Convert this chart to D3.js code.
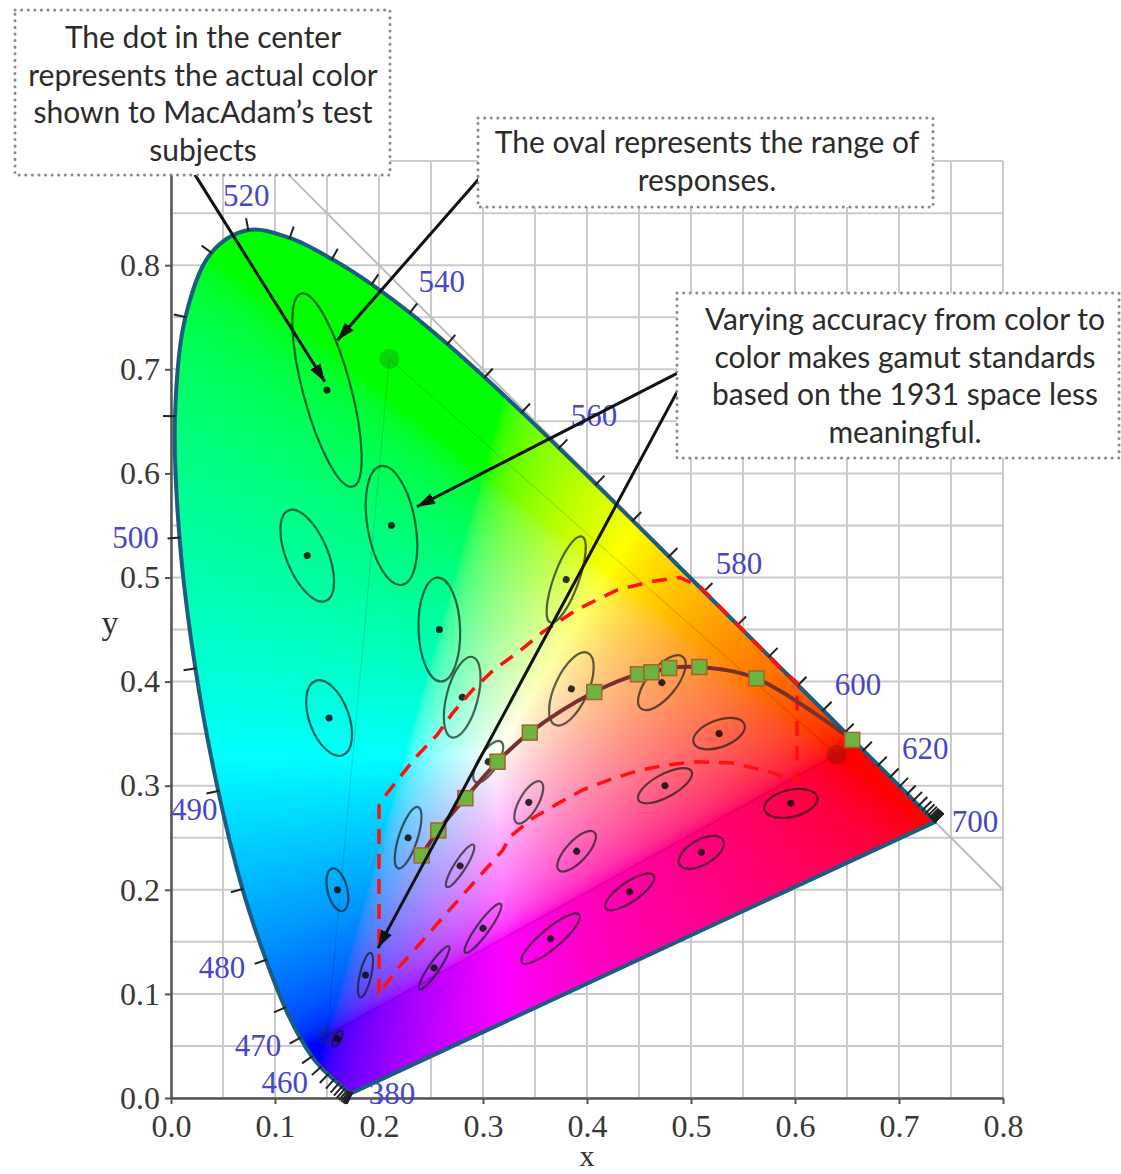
<!DOCTYPE html>
<html>
<head>
<meta charset="utf-8">
<script src="https://cdn.jsdelivr.net/npm/d3@7"></script>
<style>
  body { margin: 0; background: #fff; }
  svg { display: block; }
</style>
</head>
<body>
<svg id="chart" width="1121" height="1174"></svg>
<script>
// CIE 1931 spectral locus, 5 nm steps
const wavelengths = [380,385,390,395,400,405,410,415,420,425,430,435,440,445,450,455,460,465,470,475,
  480,485,490,495,500,505,510,515,520,525,530,535,540,545,550,555,560,565,570,575,580,585,590,595,
  600,605,610,615,620,625,630,635,640,645,650,655,660,665,670,675,680,685,690,695,700];
const locusX = [0.17411,0.17401,0.17380,0.17356,0.17334,0.17302,0.17258,0.17209,0.17141,0.17030,0.16888,
  0.16690,0.16441,0.16110,0.15664,0.15099,0.14396,0.13550,0.12412,0.10959,0.09129,0.06871,0.04539,0.02346,
  0.00817,0.00386,0.01387,0.03885,0.07430,0.11416,0.15472,0.19288,0.22962,0.26578,0.30160,0.33736,0.37310,
  0.40874,0.44406,0.47877,0.51249,0.54479,0.57515,0.60293,0.62704,0.64823,0.66576,0.68008,0.69150,0.70061,
  0.70792,0.71403,0.71903,0.72303,0.72599,0.72827,0.72997,0.73109,0.73199,0.73272,0.73342,0.73405,0.73439,
  0.73459,0.73469];
const locusY = [0.00496,0.00498,0.00492,0.00492,0.00480,0.00478,0.00480,0.00483,0.00510,0.00579,0.00690,
  0.00856,0.01086,0.01379,0.01771,0.02274,0.02970,0.03988,0.05780,0.08684,0.13270,0.20072,0.29498,0.41270,
  0.53842,0.65482,0.75019,0.81202,0.83380,0.82621,0.80586,0.78163,0.75433,0.72432,0.69231,0.65885,0.62445,
  0.58961,0.55471,0.52020,0.48659,0.45443,0.42423,0.39650,0.37249,0.35139,0.33401,0.31975,0.30834,0.29930,
  0.29203,0.28593,0.28093,0.27695,0.27401,0.27173,0.27003,0.26891,0.26801,0.26728,0.26658,0.26595,0.26561,
  0.26541,0.26531];
const labelWavelengths = [380,460,470,480,490,500,520,540,560,580,600,620,700];

// MacAdam ellipses (a, b in 1e-3, drawn magnified 10x)
const ellipseX = [0.160,0.187,0.253,0.150,0.131,0.212,0.258,0.152,0.280,0.380,0.160,0.228,0.305,
  0.385,0.472,0.527,0.475,0.510,0.596,0.344,0.390,0.441,0.278,0.300,0.365];
const ellipseY = [0.057,0.118,0.125,0.680,0.521,0.550,0.450,0.365,0.385,0.498,0.200,0.250,0.323,
  0.393,0.399,0.350,0.300,0.236,0.283,0.284,0.237,0.198,0.223,0.163,0.153];
const ellipseA = [0.85,2.2,2.5,9.6,4.7,5.8,5.0,3.8,4.0,4.4,2.1,3.1,2.3,3.8,3.2,2.6,2.9,2.4,2.6,
  2.3,2.5,2.8,2.4,2.9,3.6];
const ellipseB = [0.35,0.55,0.5,2.3,2.0,2.3,2.0,1.9,1.5,1.2,0.95,0.9,0.9,1.6,1.4,1.3,1.1,1.2,1.3,
  0.9,1.0,0.95,0.55,0.6,0.95];
const ellipseTheta = [62.5,77,55.5,105,112.5,100,92,110,75.5,70,104,72,58,65.5,51,20,28.5,29.5,13,
  60,47,34.5,57.5,54,40];

// faint RGB gamut triangle
const primaryX = [0.64, 0.21, 0.15];
const primaryY = [0.33, 0.71, 0.06];

// curve with green squares
const curveX = [0.241,0.257,0.283,0.314,0.345,0.407,0.449,0.462,0.479,0.508,0.563,0.655];
const curveY = [0.233,0.257,0.288,0.323,0.351,0.390,0.407,0.409,0.413,0.414,0.403,0.344];

// red dashed region
const bandX = [0.200,0.200,0.208,0.235,0.256,0.271,0.290,0.310,0.336,0.358,0.390,0.429,0.461,0.489,
  0.509,0.588,0.602,0.602,0.569,0.538,0.506,0.477,0.451,0.425,0.396,0.374,0.348,0.326,0.319,0.268,0.217];
const bandY = [0.100,0.281,0.293,0.327,0.349,0.370,0.392,0.411,0.430,0.448,0.469,0.488,0.496,0.500,
  0.491,0.411,0.399,0.305,0.315,0.322,0.323,0.320,0.315,0.307,0.296,0.284,0.269,0.251,0.238,0.181,0.123];

const xTicks = [0.0,0.1,0.2,0.3,0.4,0.5,0.6,0.7,0.8];
const yTicks = [0.0,0.1,0.2,0.3,0.4,0.5,0.6,0.7,0.8];

const noteLines = [
  ["The dot in the center", "represents the actual color", "shown to MacAdam\u2019s test", "subjects"],
  ["The oval represents the range of", "responses."],
  ["Varying accuracy from color to", "color makes gamut standards", "based on the 1931 space less", "meaningful."]
];
// arrows: tail and tip in chart units
const arrowFromX = [0.023, 0.297, 0.4875, 0.4875];
const arrowFromY = [0.887, 0.884, 0.6965, 0.680];
const arrowToX = [0.148, 0.160, 0.2365, 0.199];
const arrowToY = [0.688, 0.728, 0.568, 0.144];

// ---- layout ----
const noteBoxes = [
  {x: 15, y: 10, w: 375, h: 165, cx: 203, top: 48},
  {x: 478, y: 118, w: 455, h: 89, cx: 707, top: 153},
  {x: 677, y: 293, w: 442, h: 165, cx: 905, top: 330}
];
const lineGap = 37.5;
const labelOffset = {380:[40,1],460:[-36,15],470:[-42,8],480:[-44,8],490:[-24,19],500:[-44,0],
  520:[-2,-35],540:[32,-31],560:[35,-32],580:[35,-28],600:[35,-26],620:[35,-29],700:[40,0]};

const svg = d3.select("#chart");
const x = d3.scaleLinear().domain([0, 0.8]).range([171, 1003]);
const y = d3.scaleLinear().domain([0, 0.9]).range([1098, 1098 - 936.9]);
const serif = "'Liberation Serif','Times New Roman',serif";

// grid
const gridVals = d3.range(0, 17).map(i => i * 0.05);
const gridYVals = d3.range(0, 19).map(i => i * 0.05);
svg.append("g").selectAll("line").data(gridVals).join("line")
  .attr("x1", d => x(d)).attr("x2", d => x(d))
  .attr("y1", y(0)).attr("y2", y(0.9))
  .attr("stroke", "#cacaca").attr("stroke-width", 2);
svg.append("g").selectAll("line").data(gridYVals).join("line")
  .attr("y1", d => y(d)).attr("y2", d => y(d))
  .attr("x1", x(0)).attr("x2", x(0.8))
  .attr("stroke", "#cacaca").attr("stroke-width", 2);

// x + y = 1
svg.append("line")
  .attr("x1", x(0.1)).attr("y1", y(0.9)).attr("x2", x(0.8)).attr("y2", y(0.2))
  .attr("stroke", "#bdbdbd").attr("stroke-width", 2);

// axes
const xAxis = svg.append("g").attr("transform", `translate(0,${y(0)})`)
  .call(d3.axisBottom(x).tickValues(xTicks).tickFormat(d3.format(".1f")).tickSize(6).tickSizeOuter(0));
const yAxis = svg.append("g").attr("transform", `translate(${x(0)},0)`)
  .call(d3.axisLeft(y).tickValues(yTicks).tickFormat(d3.format(".1f")).tickSize(6).tickSizeOuter(0));
[xAxis, yAxis].forEach(g => {
  g.select(".domain").attr("stroke", "#555").attr("stroke-width", 2.5);
  g.selectAll(".tick line").attr("stroke", "#555").attr("stroke-width", 2);
  g.selectAll(".tick text").attr("font-family", serif).attr("font-size", 32).attr("fill", "#383838");
});
xAxis.selectAll(".tick text").attr("dy", null).attr("y", 39);
yAxis.selectAll(".tick text").attr("dy", "0.32em").attr("x", -11);

svg.append("text").attr("x", x(0.4)).attr("y", 1166)
  .attr("text-anchor", "middle").attr("font-family", serif).attr("font-size", 30).attr("fill", "#333").text("x");
svg.append("text").attr("x", 110).attr("y", 634)
  .attr("text-anchor", "middle").attr("font-family", serif).attr("font-size", 34).attr("fill", "#333").text("y");

// chromaticity fill
const locus = wavelengths.map((w, i) => [locusX[i], locusY[i]]);
const straight = d3.line().x(d => x(d[0])).y(d => y(d[1]));
const smooth = d3.line().x(d => x(d[0])).y(d => y(d[1])).curve(d3.curveCatmullRom.alpha(0.5));
const locusPath = smooth(locus) + "Z";
svg.append("defs").append("clipPath").attr("id", "locusClip")
  .append("path").attr("d", locusPath);

const px0 = Math.floor(x(0)), px1 = Math.ceil(x(0.8));
const py0 = Math.floor(y(0.9)), py1 = Math.ceil(y(0));
const cw = px1 - px0, ch = py1 - py0;
const canvas = document.createElement("canvas");
canvas.width = cw; canvas.height = ch;
const ctx = canvas.getContext("2d");
const img = ctx.createImageData(cw, ch);
const gam = c => c <= 0.0031308 ? 12.92 * c : 1.055 * Math.pow(c, 1 / 2.4) - 0.055;
for (let j = 0; j < ch; j++) {
  const cy = Math.max(y.invert(py0 + j + 0.5), 0.002);
  for (let i = 0; i < cw; i++) {
    const cx = x.invert(px0 + i + 0.5);
    const X = cx / cy, Y = 1, Z = (1 - cx - cy) / cy;
    let r = 3.2406 * X - 1.5372 * Y - 0.4986 * Z;
    let g = -0.9689 * X + 1.8758 * Y + 0.0415 * Z;
    let b = 0.0557 * X - 0.2040 * Y + 1.0570 * Z;
    r = Math.max(r, 0); g = Math.max(g, 0); b = Math.max(b, 0);
    const m = Math.max(r, g, b, 1e-6);
    const k = (j * cw + i) * 4;
    img.data[k] = Math.round(255 * gam(r / m));
    img.data[k + 1] = Math.round(255 * gam(g / m));
    img.data[k + 2] = Math.round(255 * gam(b / m));
    img.data[k + 3] = 255;
  }
}
ctx.putImageData(img, 0, 0);
svg.append("image")
  .attr("href", canvas.toDataURL())
  .attr("x", px0).attr("y", py0).attr("width", cw).attr("height", ch)
  .attr("clip-path", "url(#locusClip)");

// faint gamut triangle
const prim = primaryX.map((v, i) => [v, primaryY[i]]);
svg.append("path").attr("d", straight(prim) + "Z")
  .attr("fill", "none").attr("stroke", "rgba(0,0,0,0.13)").attr("stroke-width", 1.2);
svg.append("g").selectAll("circle").data(prim).join("circle")
  .attr("cx", d => x(d[0])).attr("cy", d => y(d[1])).attr("r", 10)
  .attr("fill", (d, i) => i === 0 ? "rgba(110,20,20,0.35)" : "rgba(40,60,40,0.22)");

// locus outline
svg.append("path").attr("d", locusPath)
  .attr("fill", "none").attr("stroke", "#1b5d80").attr("stroke-width", 4).attr("stroke-linejoin", "round");

// wavelength ticks
const pts = locus.map(d => [x(d[0]), y(d[1])]);
const wx = x(0.33), wy = y(0.33);
const tickG = svg.append("g");
pts.forEach((p, i) => {
  let a = i, b = i, dx = 0, dy = 0;
  while (Math.hypot(dx, dy) < 6 && (a > 0 || b < pts.length - 1)) {
    a = Math.max(0, a - 1); b = Math.min(pts.length - 1, b + 1);
    dx = pts[b][0] - pts[a][0]; dy = pts[b][1] - pts[a][1];
  }
  const len = Math.hypot(dx, dy);
  let nx = -dy / len, ny = dx / len;
  if ((p[0] - wx) * nx + (p[1] - wy) * ny < 0) { nx = -nx; ny = -ny; }
  tickG.append("line")
    .attr("x1", p[0] - nx * 1).attr("y1", p[1] - ny * 1)
    .attr("x2", p[0] + nx * 12).attr("y2", p[1] + ny * 12)
    .attr("stroke", "#222").attr("stroke-width", 2);
});
svg.append("g").selectAll("text").data(labelWavelengths).join("text")
  .attr("x", w => pts[wavelengths.indexOf(w)][0] + labelOffset[w][0])
  .attr("y", w => pts[wavelengths.indexOf(w)][1] + labelOffset[w][1])
  .attr("dy", "0.34em").attr("text-anchor", "middle")
  .attr("font-family", serif).attr("font-size", 31).attr("fill", "#4646cc")
  .text(w => w);

// MacAdam ellipses
const ellipseScale = 10 * (x(1) - x(0)) / 1000;
const eg = svg.append("g");
ellipseX.forEach((ex, i) => {
  const g = eg.append("g")
    .attr("transform", `translate(${x(ex)},${y(ellipseY[i])}) rotate(${-ellipseTheta[i]})`);
  g.append("ellipse").attr("rx", ellipseA[i] * ellipseScale).attr("ry", ellipseB[i] * ellipseScale)
    .attr("fill", "none").attr("stroke", "rgba(15,25,20,0.68)").attr("stroke-width", 2.2);
  g.append("circle").attr("r", 3.5).attr("fill", "rgba(10,10,10,0.85)");
});

// red dashed band
const band = bandX.map((v, i) => [v, bandY[i]]);
svg.append("path").attr("d", straight(band) + "Z")
  .attr("fill", "none").attr("stroke", "#ff1010").attr("stroke-width", 3.5)
  .attr("stroke-dasharray", "15,10").attr("stroke-linejoin", "round");

// curve and squares
const curve = curveX.map((v, i) => [v, curveY[i]]);
svg.append("path")
  .attr("d", smooth(curve))
  .attr("fill", "none").attr("stroke", "#7a2f2f").attr("stroke-width", 4);
svg.append("g").selectAll("rect").data(curve).join("rect")
  .attr("x", d => x(d[0]) - 7.5).attr("y", d => y(d[1]) - 7.5)
  .attr("width", 15).attr("height", 15)
  .attr("fill", "#6cb33f").attr("stroke", "#a8632a").attr("stroke-width", 1.5);

// arrows
svg.select("defs").append("marker").attr("id", "head")
  .attr("markerUnits", "userSpaceOnUse").attr("markerWidth", 20).attr("markerHeight", 14)
  .attr("refX", 18).attr("refY", 6).attr("orient", "auto")
  .append("path").attr("d", "M0,0L18,6L0,12Z").attr("fill", "#111");
svg.append("g").selectAll("line").data(arrowFromX).join("line")
  .attr("x1", (d, i) => x(d)).attr("y1", (d, i) => y(arrowFromY[i]))
  .attr("x2", (d, i) => x(arrowToX[i])).attr("y2", (d, i) => y(arrowToY[i]))
  .attr("stroke", "#111").attr("stroke-width", 3).attr("marker-end", "url(#head)");

// annotation boxes
noteBoxes.forEach((bx, i) => {
  svg.append("rect").attr("x", bx.x).attr("y", bx.y).attr("width", bx.w).attr("height", bx.h)
    .attr("fill", "#fff").attr("stroke", "#8a8a8a").attr("stroke-width", 3)
    .attr("stroke-dasharray", "0.1,6.5").attr("stroke-linecap", "round");
  svg.append("g").selectAll("text").data(noteLines[i]).join("text")
    .attr("x", bx.cx).attr("y", (d, k) => bx.top + k * lineGap)
    .attr("text-anchor", "middle").attr("font-family", "Lato, 'Open Sans', sans-serif")
    .attr("font-size", 30).attr("fill", "#2b2b2b").text(d => d);
});
</script>
</body>
</html>
